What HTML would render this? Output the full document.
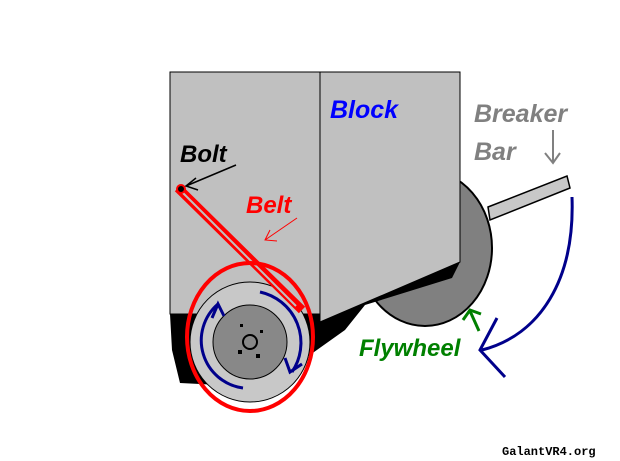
<!DOCTYPE html>
<html><head><style>body{margin:0;background:#fff}svg{display:block}</style></head><body>
<svg width="620" height="461" viewBox="0 0 620 461" xmlns="http://www.w3.org/2000/svg" font-family="Liberation Sans, sans-serif" font-style="italic" font-weight="bold">
<rect width="620" height="461" fill="#fff"/>
<ellipse cx="425" cy="248" rx="67" ry="78" fill="#808080" stroke="#000" stroke-width="2"/>
<polygon points="488,207 567,176 570,188 490,220" fill="#c8c8c8" stroke="#000" stroke-width="1.5"/>
<polygon points="170,314 325,314 460,262 452,278 365,305 345,330 300,362 220,385 180,383 172,350" fill="#000"/>
<rect x="170" y="72" width="150" height="242" fill="#c0c0c0" stroke="#000" stroke-width="1"/>
<polygon points="320,72 460,72 460,262 320,322" fill="#c0c0c0" stroke="#000" stroke-width="1"/>
<circle cx="250" cy="342" r="60" fill="#c8c8c8" stroke="#000" stroke-width="1"/>
<circle cx="250" cy="342" r="37" fill="#888" stroke="#000" stroke-width="1"/>
<circle cx="250" cy="342" r="7" fill="none" stroke="#000" stroke-width="2"/>
<rect x="238" y="350" width="4" height="4" fill="#000"/><rect x="256" y="354" width="4" height="4" fill="#000"/>
<rect x="240" y="324" width="3" height="3" fill="#000"/><rect x="260" y="330" width="3" height="3" fill="#000"/>
<line x1="178" y1="188" x2="302" y2="310" stroke="#f00" stroke-width="9"/>
<line x1="180" y1="190" x2="296" y2="306" stroke="#c0c0c0" stroke-width="2"/>
<ellipse cx="250" cy="337" rx="63" ry="74" fill="none" stroke="#f00" stroke-width="4"/>
<circle cx="181" cy="189" r="4" fill="#000" stroke="#f00" stroke-width="2"/>
<g fill="none" stroke="#00008b" stroke-width="3">
<path d="M260,292 A52,52 0 0 1 292,372"/>
<path d="M285,358 L290,372 L302,364"/>
<path d="M243,388 A48,48 0 0 1 218,304"/>
<path d="M212,318 L218,304 L224,316"/>
<path d="M572,197 C575,280 540,335 482,350"/>
<path d="M497,318 L480,350 L505,377"/>
</g>
<g stroke="#008000" stroke-width="3" fill="none"><path d="M479,331 L470,311"/><path d="M463,320 L470,310 L481,314"/></g>
<path d="M236,165 L186,186 M196,178 L186,186 L198,190" stroke="#000" stroke-width="1.5" fill="none"/>
<path d="M297,218 L265,240 M270,230 L265,240 L277,241" stroke="#f00" stroke-width="1" fill="none"/>
<path d="M553,130 L553,162 M545,153 L553,163 L560,153" stroke="#808080" stroke-width="2" fill="none"/>
<text x="330" y="118" font-size="25" fill="#0000ff">Block</text>
<text x="474" y="122" font-size="25" fill="#808080">Breaker</text>
<text x="474" y="160" font-size="25" fill="#808080">Bar</text>
<text x="180" y="162" font-size="24" fill="#000">Bolt</text>
<text x="246" y="213" font-size="24" fill="#f00">Belt</text>
<text x="359" y="356" font-size="24" fill="#008000">Flywheel</text>
<text x="502" y="455" font-size="12" font-style="normal" font-family="Liberation Mono, monospace" fill="#000">GalantVR4.org</text>
</svg>
</body></html>
